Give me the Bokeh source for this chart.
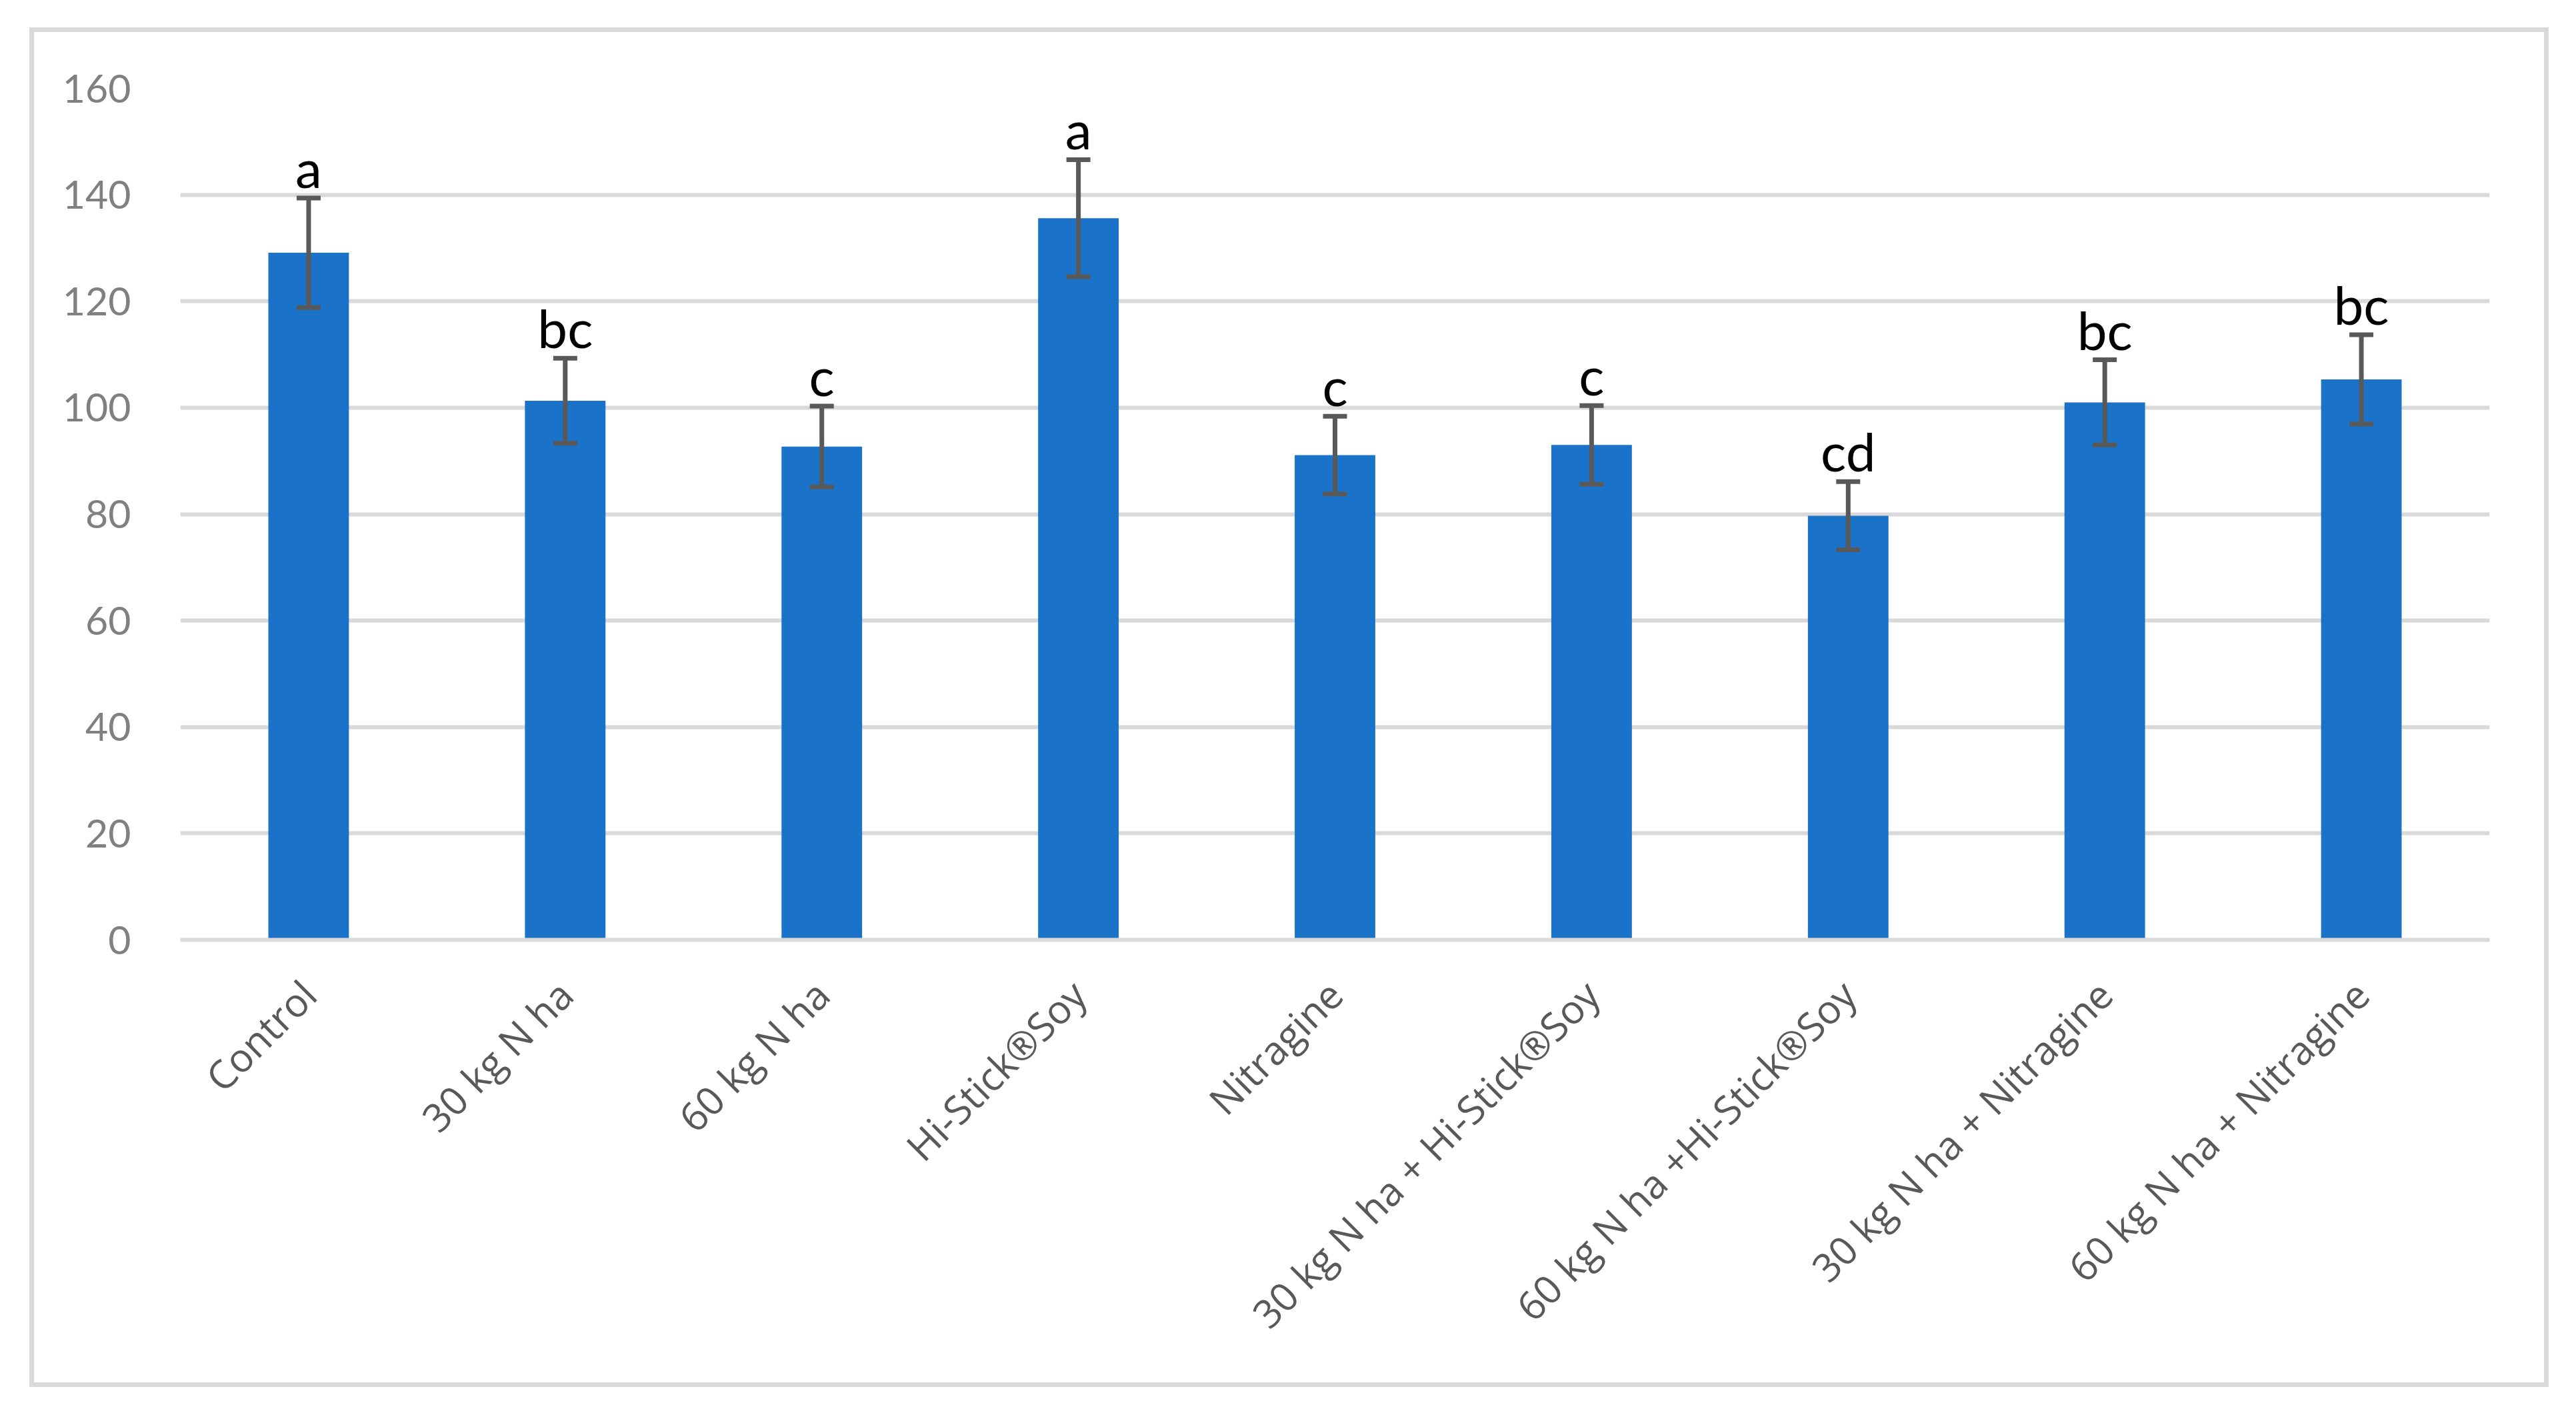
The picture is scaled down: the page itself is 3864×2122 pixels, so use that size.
from bokeh.plotting import figure
from bokeh.models import FactorRange, Range1d, FixedTicker, ColumnDataSource
from bokeh.core.properties import value
from bokeh.embed import file_html
from bokeh.resources import INLINE
import math

categories = ["Control", "30 kg N ha", "60 kg N ha", "Hi-Stick®Soy", "Nitragine",
              "30 kg N ha + Hi-Stick®Soy", "60 kg N ha +Hi-Stick®Soy",
              "30 kg N ha + Nitragine", "60 kg N ha + Nitragine"]
means = [129.1, 101.3, 92.7, 135.6, 91.1, 93.0, 79.7, 101.0, 105.3]
errors = [10.3, 8.0, 7.6, 11.0, 7.3, 7.4, 6.4, 8.0, 8.4]
letters = ["a", "bc", "c", "a", "c", "c", "cd", "bc", "bc"]
y_ticks = [0, 20, 40, 60, 80, 100, 120, 140, 160]

upper = [m + e for m, e in zip(means, errors)]
lower = [m - e for m, e in zip(means, errors)]
src = ColumnDataSource(dict(cat=categories, mean=means, up=upper, lo=lower, lab=letters))

p = figure(x_range=FactorRange(*categories), y_range=Range1d(0, 160),
           width=3765, height=2025, output_backend="svg", toolbar_location=None,
           min_border_left=219, min_border_right=96, min_border_top=84, min_border_bottom=678,
           styles={"border": "7px solid #d9d9d9", "box-sizing": "content-box",
                   "position": "absolute", "left": "44px", "top": "41px",
                   "overflow": "hidden"})

p.outline_line_color = None
p.background_fill_color = "white"
p.border_fill_color = "white"
p.xgrid.grid_line_color = None
p.ygrid.grid_line_color = "#d9d9d9"
p.ygrid.grid_line_width = 6
p.yaxis.ticker = FixedTicker(ticks=y_ticks)

p.yaxis.axis_line_color = None
p.yaxis.major_tick_line_color = None
p.yaxis.minor_tick_line_color = None
p.yaxis.major_label_text_font = "Lato"
p.yaxis.major_label_text_font_size = "59px"
p.yaxis.major_label_text_color = "#808080"
p.yaxis.major_label_standoff = 68

p.xaxis.axis_line_color = "#d9d9d9"
p.xaxis.axis_line_width = 6
p.xaxis.major_tick_line_color = None
p.xaxis.minor_tick_line_color = None
p.xaxis.major_label_orientation = math.pi / 4
p.xaxis.major_label_text_font = "Open Sans"
p.xaxis.major_label_text_font_size = "59px"
p.xaxis.major_label_text_color = "#595959"
p.xaxis.major_label_standoff = 65

p.vbar(x="cat", top="mean", bottom=0, width=0.314, source=src,
       fill_color="#1a73c8", line_color=None)
p.segment(x0="cat", y0="lo", x1="cat", y1="up", source=src,
          line_color="#595959", line_width=7)
p.rect(x="cat", y="up", width=36, height=7, width_units="screen", height_units="screen",
       source=src, fill_color="#595959", line_color=None)
p.rect(x="cat", y="lo", width=36, height=7, width_units="screen", height_units="screen",
       source=src, fill_color="#595959", line_color=None)
p.text(x="cat", y="up", text="lab", source=src, text_align="center",
       text_baseline="alphabetic", y_offset=-46, text_font=value("Lato"),
       text_font_size="80px", text_color="black")

open("out.html", "w").write(file_html(p, INLINE))
